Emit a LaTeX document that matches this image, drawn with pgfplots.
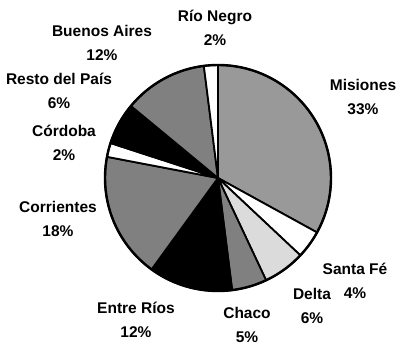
\documentclass[border=0pt]{standalone}
\usepackage{pgfplots}
\pgfplotsset{compat=1.18}
\usepackage{fontspec}
\setmainfont{Liberation Sans}
\begin{document}
\begin{tikzpicture}
\useasboundingbox (0,0) rectangle (401pt,346pt);
\begin{axis}[at={(0,0)},anchor=south west,width=401pt,height=346pt,scale only axis,
  xmin=0,xmax=401,ymin=0,ymax=346,hide axis,clip=false]
\def\cx{218}\def\cy{168}\def\rr{113}
\gdef\curang{90}
% share (%) / fill
\foreach \p/\c in {33/black!40,4/white,6/black!14,5/black!50,12/black,18/black!50,2/white,6/black,12/black!50,2/white}{
  \pgfmathsetmacro\aa{\curang}
  \pgfmathsetmacro\bb{\curang-3.6*\p}
  \edef\tmp{\noexpand\filldraw[fill=\c,draw=black,line width=1.8pt,line join=round]
    (axis cs:\cx,\cy) -- ++(\aa:\rr pt) arc[start angle=\aa,end angle=\bb,radius=\rr pt] -- cycle;}
  \tmp
  \global\let\curang\bb
}
\draw[line width=2.4pt] (axis cs:\cx,\cy) circle[radius=\rr pt];
\tikzset{lab/.style={align=center,font=\bfseries\fontsize{15.5}{24}\selectfont,inner sep=0pt}}
\node[lab] at (axis cs:215,318.5) {Río Negro\\2\%};
\node[lab] at (axis cs:102,303.5) {Buenos Aires\\12\%};
\node[lab] at (axis cs:59,255.5) {Resto del País\\6\%};
\node[lab] at (axis cs:363,249.5) {Misiones\\33\%};
\node[lab] at (axis cs:64,203.5) {Córdoba\\2\%};
\node[lab] at (axis cs:58,127.5) {Corrientes\\18\%};
\node[lab] at (axis cs:136,26) {Entre Ríos\\12\%};
\node[lab] at (axis cs:247,21.5) {Chaco\\5\%};
\node[lab] at (axis cs:312,40) {Delta\\6\%};
\node[lab] at (axis cs:355,65) {Santa Fé\\4\%};
\end{axis}
\end{tikzpicture}
\end{document}
